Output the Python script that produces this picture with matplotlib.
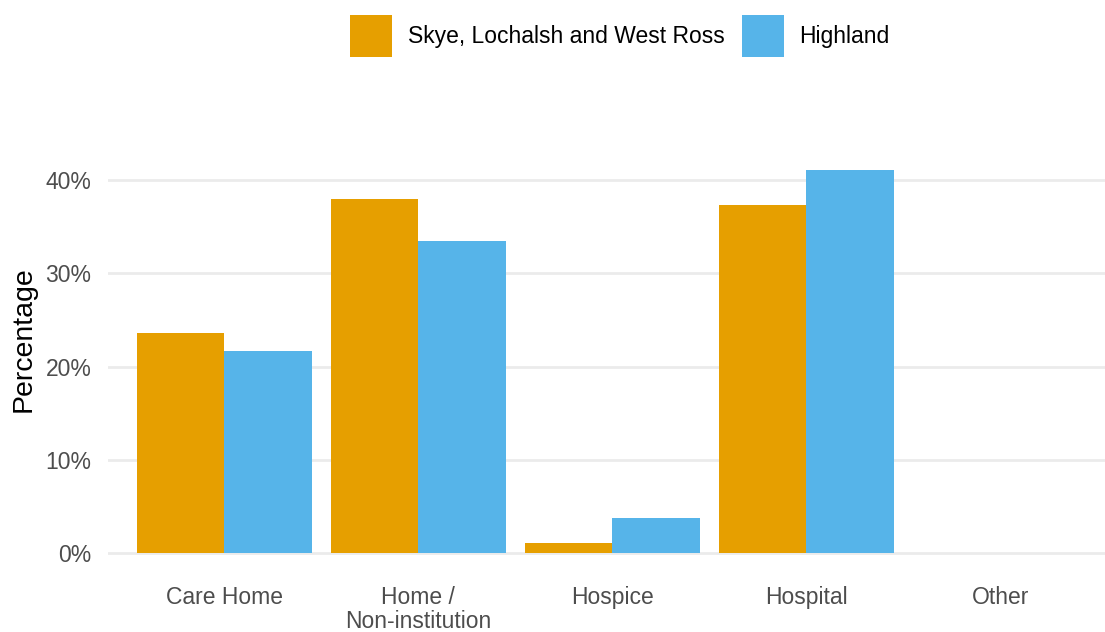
import matplotlib.pyplot as plt
import numpy as np
from matplotlib.ticker import FuncFormatter

plt.rcParams['font.family'] = ['Liberation Sans', 'DejaVu Sans']

# Daten
categories = ['Care Home', 'Home /\nNon-institution', 'Hospice', 'Hospital', 'Other']
series_names = ['Skye, Lochalsh and West Ross', 'Highland']
skye = [23.6, 38.0, 1.1, 37.4, 0.0]
highland = [21.7, 33.5, 3.7, 41.1, 0.0]
colors = ['#E69F00', '#56B4E9']
yticks = [0, 10, 20, 30, 40]

W, H = 1105, 632
fig = plt.figure(figsize=(W / 100, H / 100), dpi=100)
ax = fig.add_axes([108 / W, 1 - 572 / H, (1105 - 108) / W, (572 - 151) / H])

x = np.arange(1, len(categories) + 1)
bw = 0.45
ax.bar(x - bw / 2, skye, width=bw, color=colors[0], label=series_names[0], zorder=2)
ax.bar(x + bw / 2, highland, width=bw, color=colors[1], label=series_names[1], zorder=2)

ax.set_xlim(0.4, 5.54)
ax.set_ylim(-2.05, 43.15)
ax.set_yticks(yticks)
ax.yaxis.set_major_formatter(FuncFormatter(lambda v, p: f'{v:.0f}%'))
ax.set_xticks(x)
ax.set_xticklabels(categories, linespacing=1.08)
ax.tick_params(axis='both', length=0, labelsize=16.5, labelcolor='#4D4D4D')
ax.tick_params(axis='x', pad=10)
ax.tick_params(axis='y', pad=12)
ax.grid(axis='y', color='#EBEBEB', linewidth=2, zorder=0)
for s in ax.spines.values():
    s.set_visible(False)
ax.set_ylabel('Percentage', fontsize=20.5, color='black')
ax.yaxis.set_label_coords(-71 / (1105 - 108), (572 - 339) / (572 - 151))

fig.legend(loc='center', bbox_to_anchor=(620 / W, 1 - 36 / H), ncol=2, frameon=False,
           fontsize=16.5, handlelength=1.81, handleheight=2.44, handletextpad=0.69,
           columnspacing=0.78)

plt.savefig('out.png', dpi=100)
